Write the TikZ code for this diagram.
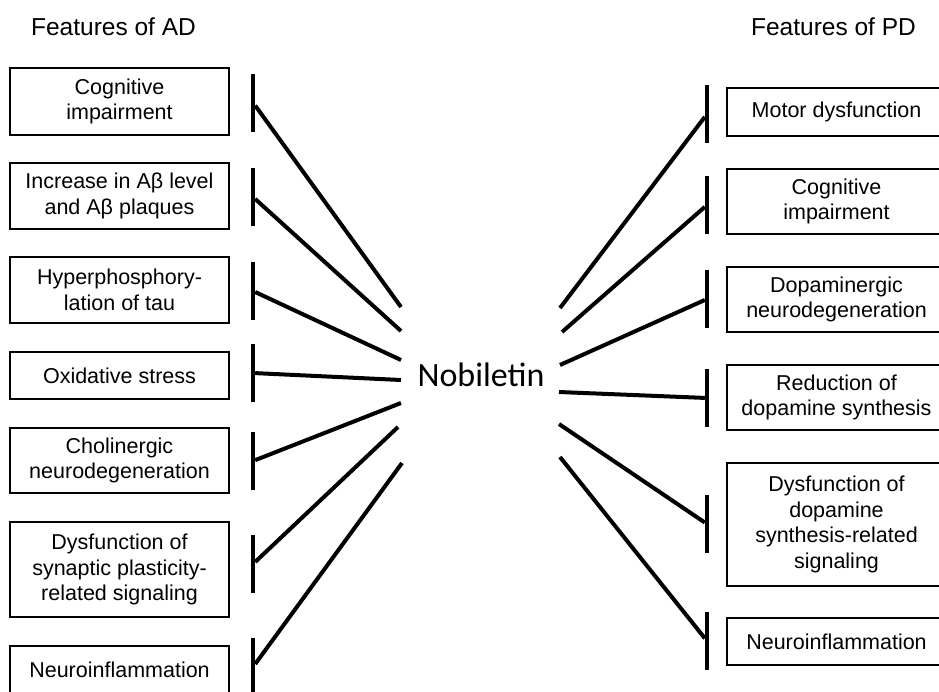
\documentclass[tikz,border=0pt]{standalone}
\usepackage{fontspec}
\setmainfont{Liberation Sans}
\newfontfamily\calibri{Carlito}
\usetikzlibrary{positioning}

\begin{document}
\begin{tikzpicture}[x=1pt,y=-1pt,
		feat/.style={draw,line width=1.8pt,minimum width=219pt,inner sep=0pt,align=center,font=\fontsize{21.5}{25.5}\selectfont},
		head/.style={anchor=base,font=\fontsize{24.5}{29}\selectfont},
		inhbar/.style={fill=black,inner sep=0pt,minimum width=4pt,minimum height=58pt},
		inh/.style={line width=4pt}]
			
			\useasboundingbox (0,0) rectangle (939,691);
			\clip (0,0) rectangle (939,691);
			
			\node[head] (ad) at (113.5,35) {Features of AD};
			\node[head] (pd) at (833.5,35) {Features of PD};
			\node[font=\calibri\fontsize{34}{40}\selectfont] (nob) at (481,375) {Nobiletin};
			
			% features of AD
			\node[feat,minimum height=67pt] (a1) at (119.5,101.5) {Cognitive\\impairment};
			\node[feat,minimum height=66pt] (a2) at (119.5,196) {Increase in Aβ level\\and Aβ plaques};
			\node[feat,minimum height=66pt] (a3) at (119.5,290) {Hyperphosphory-\\lation of tau};
			\node[feat,minimum height=47pt] (a4) at (119.5,375.5) {Oxidative stress};
			\node[feat,minimum height=65pt] (a5) at (119.5,460.5) {Cholinergic\\neurodegeneration};
			\node[feat,minimum height=95pt] (a6) at (119.5,569.5) {Dysfunction of\\synaptic plasticity-\\related signaling};
			\node[feat,minimum height=47pt] (a7) at (119.5,669.5) {Neuroinflammation};
			
			\node[inhbar] (ab1) at (253,102.5) {};
			\node[inhbar] (ab2) at (253,197) {};
			\node[inhbar] (ab3) at (253,291) {};
			\node[inhbar] (ab4) at (253,373) {};
			\node[inhbar] (ab5) at (253,461) {};
			\node[inhbar] (ab6) at (253,564) {};
			\node[inhbar] (ab7) at (253,667) {};
			
			% features of PD
			\node[feat,minimum height=48pt] (p1) at (836.5,112) {Motor dysfunction};
			\node[feat,minimum height=65pt] (p2) at (836.5,201.5) {Cognitive\\impairment};
			\node[feat,minimum height=65pt] (p3) at (836.5,299.5) {Dopaminergic\\neurodegeneration};
			\node[feat,minimum height=65pt] (p4) at (836.5,397.5) {Reduction of\\dopamine synthesis};
			\node[feat,minimum height=123pt] (p5) at (836.5,524.5) {Dysfunction of\\dopamine\\synthesis-related\\signaling};
			\node[feat,minimum height=47pt] (p6) at (836.5,641.5) {Neuroinflammation};
			
			\node[inhbar] (pb1) at (707,114) {};
			\node[inhbar] (pb2) at (707,205) {};
			\node[inhbar] (pb3) at (707,299) {};
			\node[inhbar] (pb4) at (707,398) {};
			\node[inhbar] (pb5) at (707,524) {};
			\node[inhbar] (pb6) at (707,641) {};
			
			% free ends round Nobiletin
			\coordinate (l1) at (401,307);
			\coordinate (l2) at (401,331);
			\coordinate (l3) at (401,360);
			\coordinate (l4) at (401,380);
			\coordinate (l5) at (401,403);
			\coordinate (l6) at (398,427);
			\coordinate (l7) at (402,463);
			\coordinate (r1) at (560,308);
			\coordinate (r2) at (562,332);
			\coordinate (r3) at (560,365);
			\coordinate (r4) at (559,392);
			\coordinate (r5) at (559,424);
			\coordinate (r6) at (560,457);
			
			\draw[inh] (l1) -- (ab1);
			\draw[inh] (l2) -- (ab2);
			\draw[inh] (l3) -- (ab3);
			\draw[inh] (l4) -- (ab4);
			\draw[inh] (l5) -- (ab5);
			\draw[inh] (l6) -- (ab6);
			\draw[inh] (l7) -- (ab7);
			\draw[inh] (r1) -- (pb1);
			\draw[inh] (r2) -- (pb2);
			\draw[inh] (r3) -- (pb3);
			\draw[inh] (r4) -- (pb4);
			\draw[inh] (r5) -- (pb5);
			\draw[inh] (r6) -- (pb6);
			
		\end{tikzpicture}
\end{document}
